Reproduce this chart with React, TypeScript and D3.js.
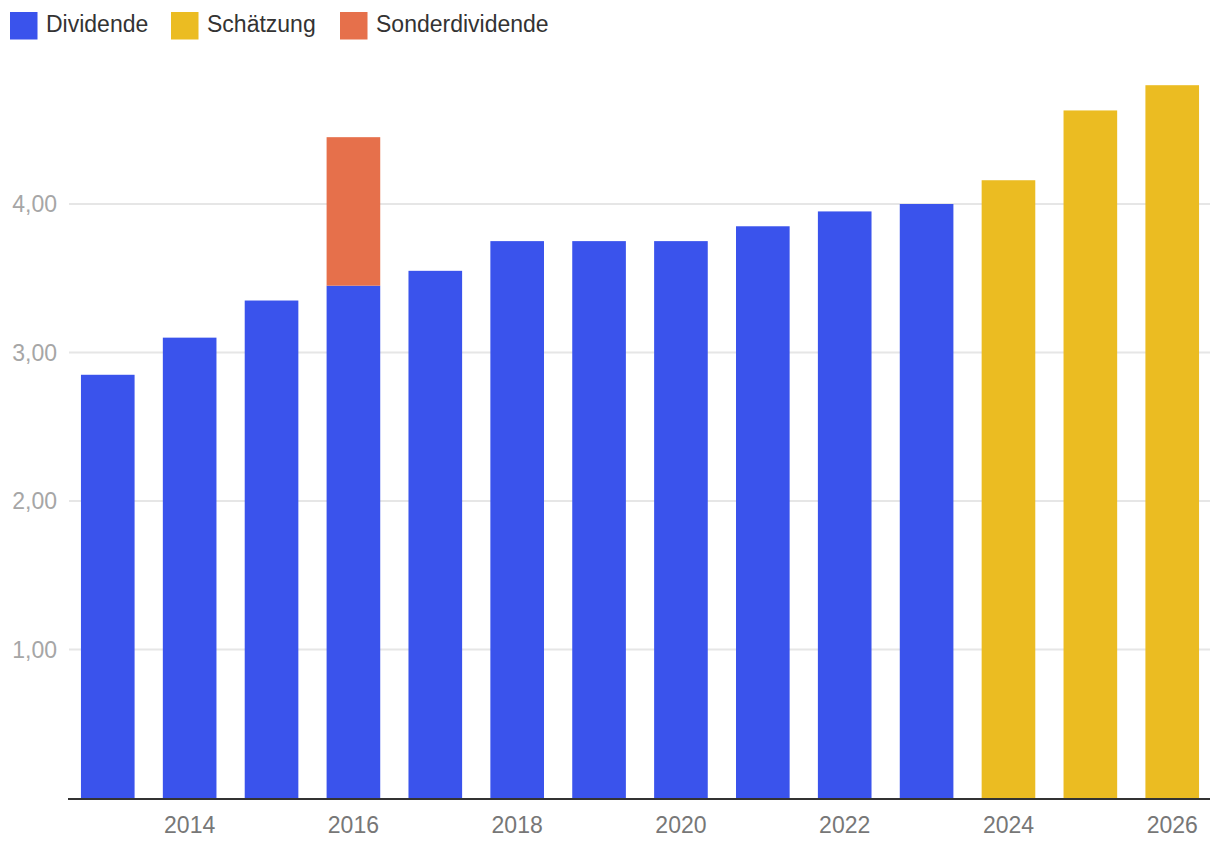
import React from "react";
import * as d3 from "d3";

const years = ["2013","2014","2015","2016","2017","2018","2019","2020","2021","2022","2023","2024","2025","2026"];
const dividende = [2.85, 3.10, 3.35, 3.45, 3.55, 3.75, 3.75, 3.75, 3.85, 3.95, 4.00, 0, 0, 0];
const schaetzung = [0, 0, 0, 0, 0, 0, 0, 0, 0, 0, 0, 4.16, 4.63, 4.80];
const sonder = [0, 0, 0, 1.00, 0, 0, 0, 0, 0, 0, 0, 0, 0, 0];
const yTicks = [1, 2, 3, 4];
const xTickLabels = ["2014", "2016", "2018", "2020", "2022", "2024", "2026"];
const legendItems = [
  { label: "Dividende", color: "#3A53EC", x: 10 },
  { label: "Schätzung", color: "#EBBC22", x: 171 },
  { label: "Sonderdividende", color: "#E6704B", x: 340 },
];

const W = 1220;
const H = 852;
const FONT = "'Liberation Sans', Arial, Helvetica, sans-serif";

export default function App() {
  const x = d3.scaleBand<string>().domain(years).range([69, 1211]).paddingInner(0.345).paddingOuter(0.146);
  const y = d3.scaleLinear().domain([0, 5]).range([798, 55.5]);
  const bw = x.bandwidth();

  return (
    <div style={{ position: "absolute", left: 0, top: 0 }}>
      <svg width={W} height={H} style={{ display: "block", fontFamily: FONT }}>
        <rect width={W} height={H} fill="#fff" />
        {legendItems.map((l) => (
          <g key={l.label}>
            <rect x={l.x} y={12} width={27.5} height={27.5} fill={l.color} />
            <text x={l.x + 36} y={32.3} fontSize={23} fill="#333">{l.label}</text>
          </g>
        ))}
        {yTicks.map((t) => (
          <g key={t}>
            <line x1={69} x2={1210} y1={y(t)} y2={y(t)} stroke="#e6e6e6" strokeWidth={2} />
            <text x={57} y={y(t)} dy="0.36em" textAnchor="end" fontSize={23} fill="#a6a6a6">
              {d3.format(".2f")(t).replace(".", ",")}
            </text>
          </g>
        ))}
        {years.map((yr, i) => {
          const x0 = x(yr)!;
          return (
            <g key={yr}>
              {dividende[i] > 0 && (
                <rect x={x0} y={y(dividende[i])} width={bw} height={y(0) - y(dividende[i])} fill="#3A53EC" />
              )}
              {sonder[i] > 0 && (
                <rect x={x0} y={y(dividende[i] + sonder[i])} width={bw} height={y(dividende[i]) - y(dividende[i] + sonder[i])} fill="#E6704B" />
              )}
              {schaetzung[i] > 0 && (
                <rect x={x0} y={y(schaetzung[i])} width={bw} height={y(0) - y(schaetzung[i])} fill="#EBBC22" />
              )}
            </g>
          );
        })}
        <line x1={68} x2={1210} y1={799} y2={799} stroke="#333" strokeWidth={2} />
        {xTickLabels.map((t) => (
          <text key={t} x={x(t)! + bw / 2} y={833} textAnchor="middle" fontSize={23} fill="#777">{t}</text>
        ))}
      </svg>
    </div>
  );
}
